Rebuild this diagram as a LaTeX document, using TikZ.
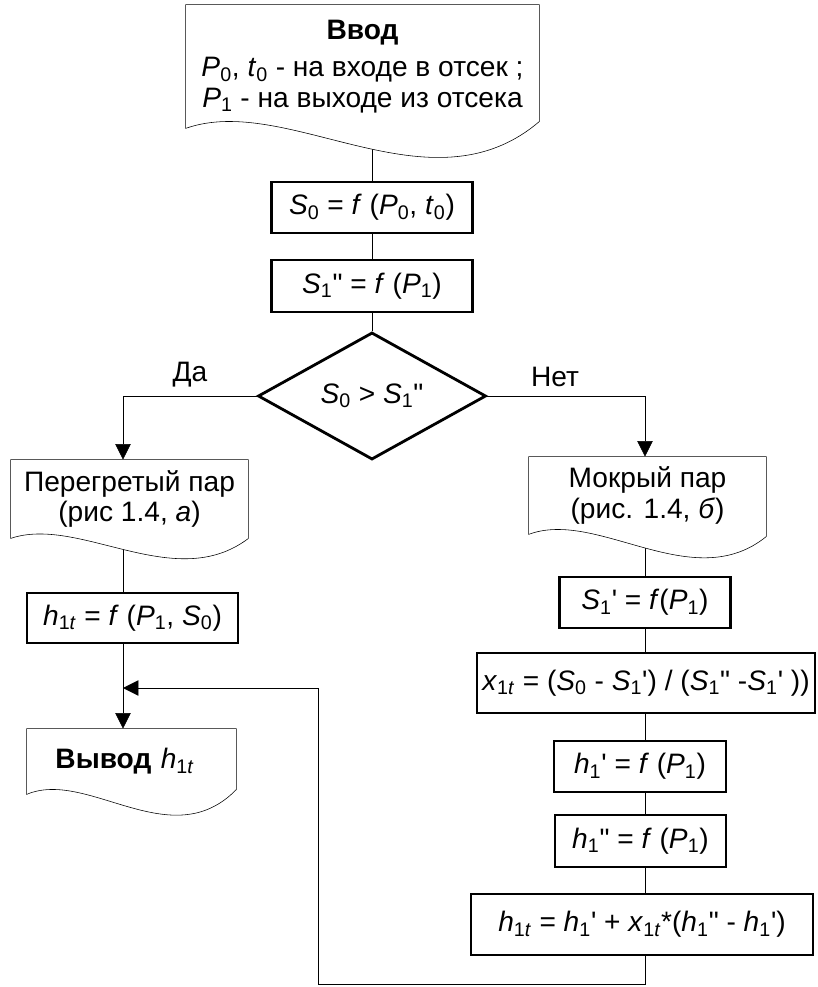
\documentclass[tikz,border=0pt]{standalone}
\usepackage{fontspec}
\newfontfamily\arl{Liberation Sans}
\usetikzlibrary{shapes.geometric,arrows.meta,calc,backgrounds}

\newcommand\ivar[1]{\textit{#1}}
\newcommand\isub[1]{\textsubscript{#1}}
% frame of a document block with a wavy bottom: name, dip, right end shift
\newcommand\docframe[3]{%
  \draw[fill=white] (#1.south west) -- (#1.north west) -- (#1.north east)
    -- ($(#1.south east)+(0,#3)$)
    .. controls ($(#1.south west)!0.69!(#1.south east)+(0,3.1*#2)$)
    and ($(#1.south west)!0.29!(#1.south east)+(0,-1.3*#2)$) .. (#1.south west) -- cycle;}

\begin{document}
\begin{tikzpicture}[x=0.025cm,y=-0.025cm,line width=2pt,>={Triangle[length=11pt,width=11pt]},
   every node/.style={font=\arl\fontsize{20}{21.5}\selectfont},
   proc/.style={draw, fill=white, inner sep=0pt},
   docbox/.style={inner sep=0pt, align=center},
   dec/.style={diamond, draw, fill=white, inner sep=0pt, minimum width=5.7cm, minimum height=3cm},
   lbl/.style={inner sep=1pt}]
   \useasboundingbox (0,0) rectangle (817,987);

   \node[docbox, minimum width=8.775cm, minimum height=3.025cm] (vvod) at (362.5,66.5)
      {\textbf{Ввод}\\[5pt] \ivar{P}\isub{0}, \ivar{t}\isub{0} - на входе в отсек ;\\ \ivar{P}\isub{1} - на выходе из отсека};
   \node[proc, minimum width=5.025cm, minimum height=1.275cm] (s0) at (372,207.5)
      {\ivar{S}\isub{0} = \ivar{f} (\ivar{P}\isub{0}, \ivar{t}\isub{0})};
   \node[proc, minimum width=5.025cm, minimum height=1.3cm] (s1pp) at (372,286)
      {\ivar{S}\isub{1}" = \ivar{f} (\ivar{P}\isub{1})};
   \node[dec] (dia) at (372,396) {\ivar{S}\isub{0} > \ivar{S}\isub{1}"};
   \node[lbl] (da) at (190,375) {Да};
   \node[lbl] (net) at (555,377) {Нет};

   % left branch
   \node[docbox, minimum width=5.875cm, minimum height=1.9cm] (pereg) at (129.5,499)
      {Перегретый пар\\(рис 1.4, \ivar{а})};
   \node[proc, minimum width=5.275cm, minimum height=1.25cm] (h1tl) at (132.5,618)
      {\ivar{h}\isub{1\ivar{t}} = \ivar{f} (\ivar{P}\isub{1}, \ivar{S}\isub{0})};
   \node[docbox, minimum width=5.175cm, minimum height=1.575cm, text width=3.8cm, inner xsep=0.68cm, align=left] (vyvod) at (131.5,761.5)
      {\textbf{Вывод} \ivar{h}\isub{1\ivar{t}}};

   % right branch
   \node[docbox, minimum width=5.875cm, minimum height=1.875cm] (mokr) at (647.5,495.5)
      {Мокрый пар\\(рис. 1.4, \ivar{б})};
   \node[proc, minimum width=4.275cm, minimum height=1.275cm] (s1p) at (645,602.5)
      {\ivar{S}\isub{1}' = \ivar{f}(\ivar{P}\isub{1})};
   \node[proc, minimum width=8.45cm, minimum height=1.5cm] (x1t) at (646,683)
      {\ivar{x}\isub{1\ivar{t}} = (\ivar{S}\isub{0} - \ivar{S}\isub{1}') / (\ivar{S}\isub{1}" -\ivar{S}\isub{1}' ))};
   \node[proc, minimum width=4.3cm, minimum height=1.275cm] (h1p) at (640,766.5)
      {\ivar{h}\isub{1}' = \ivar{f} (\ivar{P}\isub{1})};
   \node[proc, minimum width=4.275cm, minimum height=1.3cm] (h1pp) at (640.5,841)
      {\ivar{h}\isub{1}" = \ivar{f} (\ivar{P}\isub{1})};
   \node[proc, minimum width=8.55cm, minimum height=1.525cm] (h1tr) at (642,924.5)
      {\ivar{h}\isub{1\ivar{t}} = \ivar{h}\isub{1}' + \ivar{x}\isub{1\ivar{t}}*(\ivar{h}\isub{1}" - \ivar{h}\isub{1}')};

   \coordinate (lcol) at (123,0);
   \coordinate (rcol) at (645,0);
   \coordinate (fbl) at (318,984);
   \coordinate (fbt) at (123,688);

   \begin{pgfonlayer}{background}
   \draw (vvod.center -| s0) -- (s0) -- (s1pp) -- (dia);
   \draw[->] (dia.west) -| (pereg.north -| lcol);
   \draw (pereg.center -| lcol) -- (h1tl.north -| lcol);
   \draw[->] (h1tl.south -| lcol) -- (vyvod.north -| lcol);
   \draw[->] (dia.east) -| (mokr.north -| rcol);
   \draw (mokr.center -| rcol) -- (s1p.north -| rcol);
   \draw (s1p.south -| rcol) -- (x1t.north -| rcol);
   \draw (x1t.south -| rcol) -- (h1p.north -| rcol);
   \draw (h1p.south -| rcol) -- (h1pp.north -| rcol);
   \draw (h1pp.south -| rcol) -- (h1tr.north -| rcol);
   \draw[->] (h1tr.south -| rcol) |- (fbl) |- (fbt);
   \docframe{vvod}{28}{-7}
   \docframe{pereg}{18}{0}
   \docframe{mokr}{20}{2}
   \docframe{vyvod}{20}{-5}
   \end{pgfonlayer}
\end{tikzpicture}
\end{document}
